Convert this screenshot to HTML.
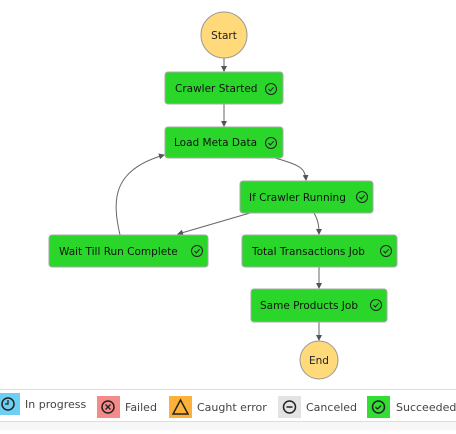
<!DOCTYPE html>
<html><head><style>
body{margin:0;background:#fff;width:456px;height:430px;overflow:hidden;font-family:"DejaVu Sans","Liberation Sans",sans-serif}
</style></head><body>
<svg width="456" height="430" xmlns="http://www.w3.org/2000/svg" font-family="DejaVu Sans, Liberation Sans, sans-serif" font-size="10.5">
<defs><marker id="a" markerWidth="6" markerHeight="6" refX="5" refY="3" orient="auto"><path d="M0,0L6,3L0,6z" fill="#555"/></marker>
<g id="ck"><circle r="5.5" fill="none" stroke="#222" stroke-width="1"/><path d="M-2.5,0L-0.7,2L2.7,-1.8" fill="none" stroke="#222" stroke-width="1"/></g></defs>
<g stroke="#666" stroke-width="1" fill="none" marker-end="url(#a)">
<line x1="224" y1="58" x2="224" y2="71"/>
<line x1="224" y1="104" x2="224" y2="126"/>
<path d="M275,158 C300,165 305,168 306,180"/>
<path d="M250,213 L178,234"/>
<path d="M314,213 C318,220 319,225 319,234"/>
<line x1="319" y1="267" x2="319" y2="288"/>
<line x1="319" y1="322" x2="319" y2="340"/>
<path d="M120,235 C112,200 112,170 164,155"/>
</g>
<circle cx="224" cy="35" r="23" fill="#ffd97a" stroke="#999"/>
<text x="224" y="39" text-anchor="middle" fill="#222">Start</text>
<circle cx="319" cy="360" r="19" fill="#ffd97a" stroke="#999"/>
<text x="319" y="364" text-anchor="middle" fill="#222">End</text>
<g fill="#2bd62b" stroke="#aaa">
<rect x="165" y="72" width="118" height="32" rx="3"/>
<rect x="165" y="127" width="118" height="31" rx="3"/>
<rect x="240" y="181" width="133" height="32" rx="3"/>
<rect x="49" y="235" width="159" height="32" rx="3"/>
<rect x="242" y="235" width="155" height="32" rx="3"/>
<rect x="251" y="289" width="136" height="33" rx="3"/>
</g>
<g fill="#111">
<text x="175" y="92">Crawler Started</text>
<text x="174" y="146">Load Meta Data</text>
<text x="249" y="201">If Crawler Running</text>
<text x="59" y="255">Wait Till Run Complete</text>
<text x="252" y="255">Total Transactions Job</text>
<text x="260" y="309">Same Products Job</text>
</g>
<use href="#ck" x="271" y="89"/><use href="#ck" x="271" y="143"/><use href="#ck" x="362" y="197"/>
<use href="#ck" x="197" y="251"/><use href="#ck" x="386" y="251"/><use href="#ck" x="376" y="305"/>
<line x1="0" y1="389.5" x2="456" y2="389.5" stroke="#ddd"/>
<rect x="0" y="421" width="456" height="9" fill="#f7f7f7"/>
<line x1="0" y1="421.5" x2="456" y2="421.5" stroke="#ddd"/>
<g font-size="11" fill="#444">
<rect x="0" y="393" width="20" height="22" fill="#6dd0f2"/><circle cx="8" cy="404" r="6" fill="none" stroke="#222" stroke-width="1.5"/><path d="M8,400V404H5" stroke="#222" fill="none" stroke-width="1.3"/>
<text x="25" y="408">In progress</text>
<rect x="97" y="396" width="23" height="22" fill="#f48a8a"/><circle cx="108" cy="407" r="6" fill="none" stroke="#222" stroke-width="1.5"/><path d="M105.5,404.5l5,5m0,-5l-5,5" stroke="#222" stroke-width="1.3"/>
<text x="125" y="411">Failed</text>
<rect x="169" y="396" width="23" height="22" fill="#fbb13a"/><path d="M180.5,400L188,414H173z" fill="none" stroke="#222" stroke-width="1.5"/>
<text x="197" y="411">Caught error</text>
<rect x="278" y="396" width="23" height="22" fill="#e3e3e3"/><circle cx="289.5" cy="407" r="6" fill="none" stroke="#222" stroke-width="1.5"/><line x1="286.5" y1="407" x2="292.5" y2="407" stroke="#222" stroke-width="1.5"/>
<text x="306" y="411">Canceled</text>
<rect x="367" y="396" width="23" height="22" fill="#33dd33"/><circle cx="378.5" cy="407" r="6" fill="none" stroke="#222" stroke-width="1.5"/><path d="M375.5,407l2,2l3.5,-3.5" stroke="#222" fill="none" stroke-width="1.3"/>
<text x="396" y="411">Succeeded</text>
</g>
</svg>
</body></html>
